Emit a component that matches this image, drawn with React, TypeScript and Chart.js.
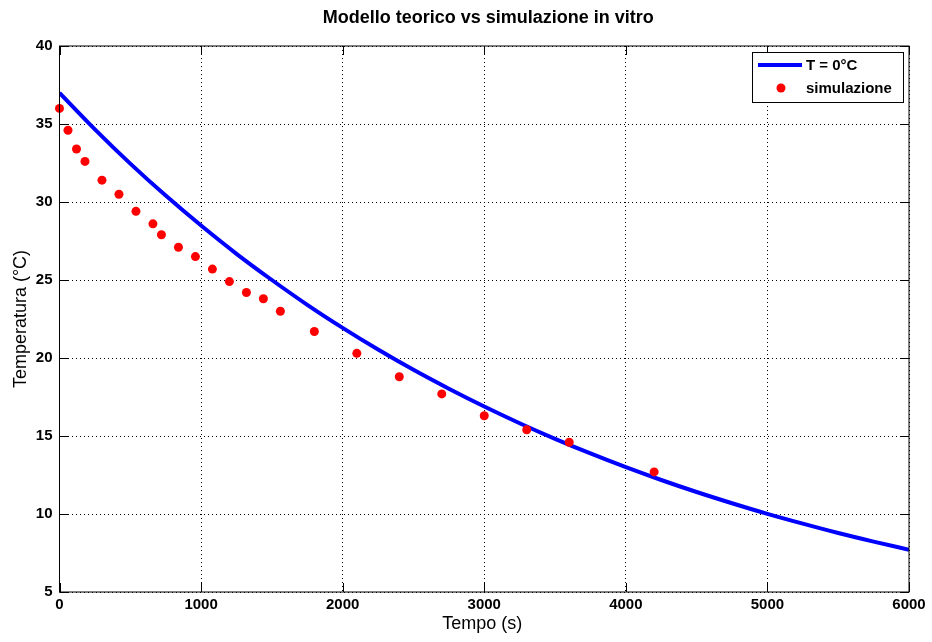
import React, { useEffect, useRef } from "react";
import { Chart, registerables } from "chart.js";

Chart.register(...registerables);

// ---- data ----
const chartTitle = "Modello teorico vs simulazione in vitro";
const xAxisTitle = "Tempo (s)";
const yAxisTitle = "Temperatura (°C)";
const modelLabel = "T = 0°C";
const simLabel = "simulazione";

const xTicks = [0, 1000, 2000, 3000, 4000, 5000, 6000];
const yTicks = [5, 10, 15, 20, 25, 30, 35, 40];

// theoretical model curve
const modelTime = [
  0, 250, 500, 750, 1000, 1250, 1500, 1750, 2000, 2250, 2500, 2750, 3000,
  3250, 3500, 3750, 4000, 4250, 4500, 4750, 5000, 5250, 5500, 5750, 6000,
];
const modelTemp = [
  37.0, 34.66, 32.46, 30.41, 28.49, 26.68, 25.0, 23.41, 21.93, 20.54, 19.24,
  18.03, 16.89, 15.82, 14.82, 13.88, 13.0, 12.18, 11.41, 10.69, 10.01, 9.38,
  8.78, 8.23, 7.71,
];

// in-vitro simulation points
const simTime = [
  0, 60, 120, 180, 300, 420, 540, 660, 720, 840, 960, 1080, 1200, 1320, 1440,
  1560, 1800, 2100, 2400, 2700, 3000, 3300, 3600, 4200,
];
const simTemp = [
  36.0, 34.6, 33.4, 32.6, 31.4, 30.5, 29.4, 28.6, 27.9, 27.1, 26.5, 25.7, 24.9,
  24.2, 23.8, 23.0, 21.7, 20.3, 18.8, 17.7, 16.3, 15.4, 14.6, 12.7,
];

const FONT = "'Liberation Sans', Arial, Helvetica, sans-serif";

const refPlugin = {
  id: "refDecor",
  beforeDraw(chart: any) {
    const { ctx, width, height } = chart;
    ctx.save();
    ctx.fillStyle = "#ffffff";
    ctx.fillRect(0, 0, width, height);
    ctx.restore();
  },
  afterDatasetsDraw(chart: any) {
    const { ctx, chartArea: a, scales } = chart;
    const xs = scales.x;
    const ys = scales.y;
    ctx.save();
    ctx.strokeStyle = "#000";
    ctx.lineWidth = 1;
    const tl = 9;
    ctx.beginPath();
    xTicks.forEach((t) => {
      const px = Math.round(xs.getPixelForValue(t)) + 0.5;
      ctx.moveTo(px, a.bottom);
      ctx.lineTo(px, a.bottom - tl);
      ctx.moveTo(px, a.top);
      ctx.lineTo(px, a.top + tl);
    });
    yTicks.forEach((t) => {
      const py = Math.round(ys.getPixelForValue(t)) + 0.5;
      ctx.moveTo(a.left, py);
      ctx.lineTo(a.left + tl, py);
      ctx.moveTo(a.right, py);
      ctx.lineTo(a.right - tl, py);
    });
    ctx.stroke();
    ctx.strokeRect(a.left, a.top, a.right - a.left, a.bottom - a.top);

    // titles
    ctx.fillStyle = "#000";
    ctx.textAlign = "center";
    ctx.textBaseline = "alphabetic";
    ctx.font = `bold 18px ${FONT}`;
    ctx.fillText(chartTitle, (a.left + a.right) / 2 + 4, 23);
    ctx.font = `18px ${FONT}`;
    ctx.fillText(xAxisTitle, (a.left + a.right) / 2 - 2, 629);
    ctx.save();
    ctx.translate(26, (a.top + a.bottom) / 2);
    ctx.rotate(-Math.PI / 2);
    ctx.fillText(yAxisTitle, 0, 0);
    ctx.restore();

    // legend
    const lx = a.right - 157;
    const ly = a.top + 6;
    const lw = 151;
    const lh = 50;
    ctx.fillStyle = "#fff";
    ctx.fillRect(lx, ly, lw, lh);
    ctx.strokeStyle = "#000";
    ctx.lineWidth = 1;
    ctx.strokeRect(Math.round(lx) + 0.5, Math.round(ly) + 0.5, lw, lh);
    ctx.strokeStyle = "#0000ff";
    ctx.lineWidth = 4;
    ctx.beginPath();
    ctx.moveTo(lx + 6, ly + 13);
    ctx.lineTo(lx + 50, ly + 13);
    ctx.stroke();
    ctx.fillStyle = "#ff0000";
    ctx.beginPath();
    ctx.arc(lx + 29, ly + 36, 4.5, 0, Math.PI * 2);
    ctx.fill();
    ctx.fillStyle = "#000";
    ctx.textAlign = "left";
    ctx.textBaseline = "middle";
    ctx.font = `bold 15px ${FONT}`;
    ctx.fillText(modelLabel, lx + 54, ly + 14);
    ctx.fillText(simLabel, lx + 54, ly + 37);
    ctx.restore();
  },
};

export default function App() {
  const ref = useRef<HTMLCanvasElement | null>(null);
  useEffect(() => {
    if (!ref.current) return;
    const chart = new Chart(ref.current, {
      type: "scatter",
      data: {
        datasets: [
          {
            label: simLabel,
            data: simTime.map((x, i) => ({ x, y: simTemp[i] })),
            showLine: false,
            pointRadius: 4.5,
            pointBackgroundColor: "#ff0000",
            pointBorderWidth: 0,
            clip: false,
            order: 0,
          },
          {
            label: modelLabel,
            data: modelTime.map((x, i) => ({ x, y: modelTemp[i] })),
            showLine: true,
            borderColor: "#0000ff",
            borderWidth: 4,
            pointRadius: 0,
            cubicInterpolationMode: "monotone",
            fill: false,
            order: 1,
          },
        ],
      } as any,
      options: {
        responsive: false,
        animation: false,
        events: [],
        layout: { padding: { top: 46, right: 23, left: 0, bottom: 0 } },
        plugins: {
          legend: { display: false },
          tooltip: { enabled: false },
          title: { display: false },
        },
        scales: {
          x: {
            type: "linear",
            min: 0,
            max: 6000,
            afterFit: (s: any) => {
              s.height = 50;
            },
            afterBuildTicks: (s: any) => {
              s.ticks = xTicks.map((v) => ({ value: v }));
            },
            ticks: {
              color: "#000",
              font: { family: FONT, size: 15, weight: "bold" },
              padding: 4,
              maxRotation: 0,
              callback: (v: any) => String(v),
            },
            grid: { color: "#000", lineWidth: 1, drawTicks: false },
            border: { display: false, dash: [1, 3] },
          },
          y: {
            type: "linear",
            min: 5,
            max: 40,
            afterFit: (s: any) => {
              s.width = 59.5;
            },
            afterBuildTicks: (s: any) => {
              s.ticks = yTicks.map((v) => ({ value: v }));
            },
            ticks: {
              color: "#000",
              font: { family: FONT, size: 15, weight: "bold" },
              padding: 7,
              callback: (v: any) => String(v),
            },
            grid: { color: "#000", lineWidth: 1, drawTicks: false },
            border: { display: false, dash: [1, 3] },
          },
        },
      } as any,
      plugins: [refPlugin],
    });
    return () => chart.destroy();
  }, []);
  return (
    <canvas
      ref={ref}
      width={932}
      height={642}
      style={{ position: "fixed", left: 0, top: 0, width: 932, height: 642 }}
    />
  );
}
